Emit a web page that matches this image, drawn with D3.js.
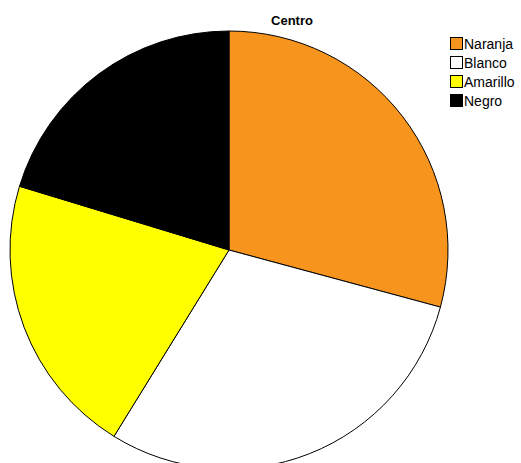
<!DOCTYPE html>
<html>
<head>
<meta charset="utf-8">
<script src="https://cdn.jsdelivr.net/npm/d3@7"></script>
<style>
  html, body { margin: 0; padding: 0; background: #fff; }
  svg { display: block; }
</style>
</head>
<body>
<svg id="chart" width="521" height="463"></svg>
<script>
// Shares per colour (percent)
const categories = ["Naranja", "Blanco", "Amarillo", "Negro"];
const values = [29.2, 29.6, 20.9, 20.3];
const colors = ["#f7941d", "#ffffff", "#ffff00", "#000000"];
const title = "Centro";

const svg = d3.select("#chart");
const cx = 229, cy = 250, radius = 219;

const color = d3.scaleOrdinal().domain(categories).range(colors);

const pie = d3.pie().sort(null).value(d => d.value);
const arc = d3.arc().innerRadius(0).outerRadius(radius);

const data = categories.map((c, i) => ({ name: c, value: values[i] }));

svg.append("g")
  .attr("transform", `translate(${cx},${cy})`)
  .selectAll("path")
  .data(pie(data))
  .join("path")
  .attr("d", arc)
  .attr("fill", d => color(d.data.name))
  .attr("stroke", "#000")
  .attr("stroke-width", 1)
  .attr("stroke-linejoin", "round");

svg.append("text")
  .attr("x", 292)
  .attr("y", 25)
  .attr("text-anchor", "middle")
  .attr("font-family", "Liberation Sans, Arial, sans-serif")
  .attr("font-weight", "bold")
  .attr("font-size", 13)
  .text(title);

const legend = svg.append("g").attr("transform", "translate(450,37)");
const row = legend.selectAll("g")
  .data(categories)
  .join("g")
  .attr("transform", (d, i) => `translate(0,${i * 19})`);

row.append("rect")
  .attr("x", 0.5).attr("y", 0.5)
  .attr("width", 12).attr("height", 12)
  .attr("fill", d => color(d))
  .attr("stroke", "#000")
  .attr("stroke-width", 1);

row.append("text")
  .attr("x", 14)
  .attr("y", 12)
  .attr("font-family", "Liberation Sans, Arial, sans-serif")
  .attr("font-size", 14)
  .attr("fill", "#000")
  .text(d => d);
</script>
</body>
</html>
